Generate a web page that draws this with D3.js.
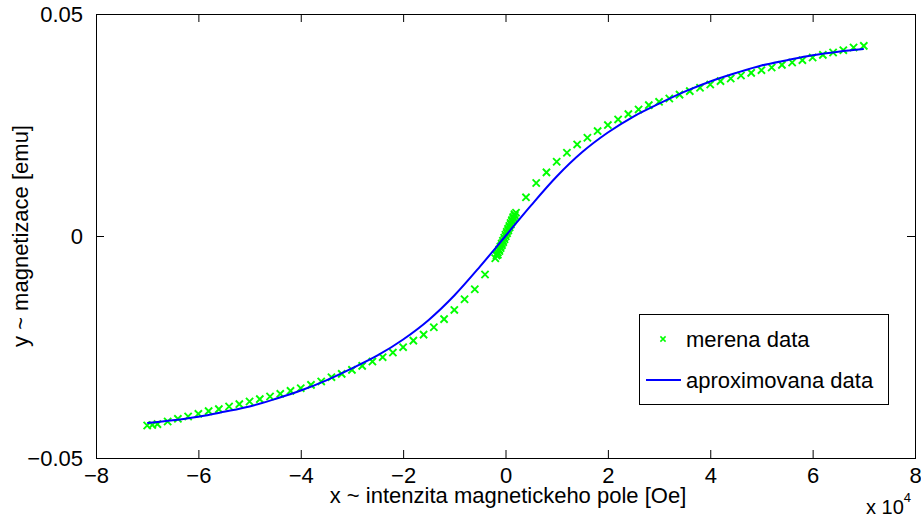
<!DOCTYPE html>
<html>
<head>
<meta charset="utf-8">
<script src="https://cdn.jsdelivr.net/npm/d3@7"></script>
<style>
  body { margin: 0; background: #fff; }
  text { font-family: "Liberation Sans", Arial, Helvetica, sans-serif; fill: #000; }
</style>
</head>
<body>
<svg id="chart"></svg>
<script>
// measured points (x in Oe, y in emu)
const measX = [
  -70000, -69000, -68000, -66000, -64000, -62000, -60000, -58000, -56000, -54000,
  -52000, -50000, -48000, -46000, -44000, -42000, -40000, -38000, -36000, -34000,
  -32000, -30000, -28000, -26000, -24000, -22000, -20000, -18000, -16000, -14000,
  -12000, -10000, -8000, -6000, -4000,
  -2000, -1750, -1500, -1250, -1000, -750, -500, -250, 0, 250, 500, 750, 1000, 1250, 1500, 1750,
  2050, 1800, 1550, 1300, 1050, 800, 550, 300, 50, -200, -450, -700, -950, -1200, -1500,
  4000, 6000, 8000, 10000, 12000, 14000, 16000, 18000, 20000, 22000,
  24000, 26000, 28000, 30000, 32000, 34000, 36000, 38000, 40000, 42000,
  44000, 46000, 48000, 50000, 52000, 54000, 56000, 58000, 60000, 62000,
  64000, 66000, 68000, 70000
];
const measY = [
  -0.04268, -0.04255, -0.04237, -0.04178, -0.04118, -0.04066, -0.04005, -0.03944, -0.03899, -0.03841,
  -0.03787, -0.03728, -0.03674, -0.03616, -0.03555, -0.03488, -0.03427, -0.03353, -0.03275, -0.03179,
  -0.03105, -0.03015, -0.02925, -0.02828, -0.02729, -0.02626, -0.02504, -0.02356, -0.02221, -0.02054,
  -0.01872, -0.01665, -0.01424, -0.01199, -0.00866,
  -0.00500, -0.00436, -0.00371, -0.00305, -0.00238, -0.00172, -0.00106, -0.00039, 0.00027, 0.00094, 0.00160, 0.00227, 0.00293, 0.00359, 0.00425, 0.00490,
  0.00525, 0.00458, 0.00392, 0.00326, 0.00259, 0.00193, 0.00127, 0.00060, -0.00006, -0.00073, -0.00139, -0.00206, -0.00272, -0.00338, -0.00422,
  0.00871, 0.01193, 0.01433, 0.01672, 0.01874, 0.02063, 0.02212, 0.02363, 0.02498, 0.02626,
  0.02745, 0.02851, 0.02948, 0.03022, 0.03098, 0.03184, 0.03263, 0.03338, 0.03413, 0.03488,
  0.03548, 0.03616, 0.03674, 0.03735, 0.03796, 0.03854, 0.03908, 0.0396, 0.0402, 0.04079,
  0.04133, 0.04185, 0.04246, 0.04282
];

// fitted curve
const fitX = [
  -70000, -65000, -60000, -55000, -50000, -45000, -40000, -35000, -30000, -25000,
  -20000, -15000, -10000, -5000, 0, 5000, 10000, 15000, 20000, 25000,
  30000, 35000, 40000, 45000, 50000, 55000, 60000, 65000, 70000
];
const fitY = [
  -0.0421, -0.0415, -0.0407, -0.0396, -0.0384, -0.0367, -0.0348, -0.0325, -0.0298, -0.0269,
  -0.0233, -0.0189, -0.0134, -0.0069, 0, 0.0069, 0.0134, 0.0189, 0.0233, 0.0269,
  0.0298, 0.0325, 0.0348, 0.0367, 0.0384, 0.0396, 0.0407, 0.0415, 0.0421
];

const xTicks = [-80000, -60000, -40000, -20000, 0, 20000, 40000, 60000, 80000];
const yTicks = [-0.05, 0, 0.05];
const legendLabels = ["merena data", "aproximovana data"];

const W = 921, H = 520;
const M = { left: 96, right: 915, top: 14, bottom: 458 };
const TICK = 8;
const FONT = 22;

const svg = d3.select("#chart").attr("width", W).attr("height", H);

const x = d3.scaleLinear().domain([-80000, 80000]).range([M.left, M.right]);
const y = d3.scaleLinear().domain([-0.05, 0.05]).range([M.bottom, M.top]);

const fmtX = (d) => (d / 1e4 < 0 ? "\u2212" + Math.abs(d / 1e4) : String(d / 1e4));
const fmtY = (d) => (d < 0 ? "\u2212" + Math.abs(d) : String(d));

// ticks, inward on all four sides
const xAxisBottom = d3.axisBottom(x).tickValues(xTicks).tickSize(-TICK).tickPadding(TICK + 1).tickFormat(fmtX);
const xAxisTop = d3.axisTop(x).tickValues(xTicks).tickSize(-TICK).tickFormat("");
const yAxisLeft = d3.axisLeft(y).tickValues(yTicks).tickSize(-TICK).tickPadding(TICK + 5).tickFormat(fmtY);
const yAxisRight = d3.axisRight(y).tickValues(yTicks).tickSize(-TICK).tickFormat("");

function styleAxis(g) {
  g.select(".domain").remove();
  g.selectAll(".tick line").attr("stroke", "#000").attr("stroke-width", 1);
  g.selectAll(".tick text")
    .attr("font-family", '"Liberation Sans", Arial, sans-serif')
    .attr("font-size", FONT)
    .attr("fill", "#000");
}

svg.append("g").attr("transform", `translate(0,${M.bottom})`).call(xAxisBottom).call(styleAxis)
  .selectAll(".tick text").attr("dy", "0.71em");
svg.append("g").attr("transform", `translate(0,${M.top})`).call(xAxisTop).call(styleAxis);
svg.append("g").attr("transform", `translate(${M.left},0)`).call(yAxisLeft).call(styleAxis)
  .selectAll(".tick text").attr("dy", "0.36em");
svg.append("g").attr("transform", `translate(${M.right},0)`).call(yAxisRight).call(styleAxis);

// plot box
svg.append("rect")
  .attr("x", M.left + 0.5)
  .attr("y", M.top + 0.5)
  .attr("width", M.right - M.left)
  .attr("height", M.bottom - M.top)
  .attr("fill", "none")
  .attr("stroke", "#000")
  .attr("stroke-width", 1);

// measured data as green x markers
const cross = (s) => `M${-s},${-s}L${s},${s}M${-s},${s}L${s},${-s}`;
const measured = d3.zip(measX, measY);
svg.append("g")
  .selectAll("path")
  .data(measured)
  .join("path")
  .attr("transform", (d) => `translate(${x(d[0])},${y(d[1])})`)
  .attr("d", cross(3.6))
  .attr("stroke", "#00ff00")
  .attr("stroke-width", 1.9)
  .attr("fill", "none");

// fitted curve
const line = d3.line()
  .x((d) => x(d[0]))
  .y((d) => y(d[1]))
  .curve(d3.curveMonotoneX);
svg.append("path")
  .datum(d3.zip(fitX, fitY))
  .attr("d", line)
  .attr("fill", "none")
  .attr("stroke", "#0000ff")
  .attr("stroke-width", 2);

// axis titles
svg.append("text")
  .attr("x", 508)
  .attr("y", 503)
  .attr("text-anchor", "middle")
  .attr("font-size", FONT)
  .text("x ~ intenzita magnetickeho pole [Oe]");

svg.append("text")
  .attr("transform", `translate(28,${(M.top + M.bottom) / 2}) rotate(-90)`)
  .attr("text-anchor", "middle")
  .attr("font-size", FONT)
  .text("y ~ magnetizace [emu]");

svg.append("text")
  .attr("x", 866)
  .attr("y", 514)
  .attr("font-size", FONT - 2)
  .call((t) => t.append("tspan").text("x 10"))
  .call((t) => t.append("tspan").attr("dy", -12).attr("font-size", 13).text("4"));

// legend
const legend = svg.append("g").attr("transform", "translate(639,314)");
legend.append("rect")
  .attr("x", 0.5)
  .attr("y", 0.5)
  .attr("width", 249)
  .attr("height", 90)
  .attr("fill", "#fff")
  .attr("stroke", "#000");
legend.append("g")
  .attr("transform", "translate(0,25)")
  .call((g) =>
    g.append("path")
      .attr("transform", "translate(24,0)")
      .attr("d", cross(2.6))
      .attr("stroke", "#00ff00")
      .attr("stroke-width", 1.5)
  )
  .call((g) =>
    g.append("text")
      .attr("x", 47)
      .attr("dy", "0.36em")
      .attr("font-size", FONT)
      .text(legendLabels[0])
  );
legend.append("g")
  .attr("transform", "translate(0,66)")
  .call((g) =>
    g.append("line")
      .attr("x1", 7)
      .attr("x2", 42)
      .attr("stroke", "#0000ff")
      .attr("stroke-width", 2)
  )
  .call((g) =>
    g.append("text")
      .attr("x", 47)
      .attr("dy", "0.36em")
      .attr("font-size", FONT)
      .text(legendLabels[1])
  );
</script>
</body>
</html>
